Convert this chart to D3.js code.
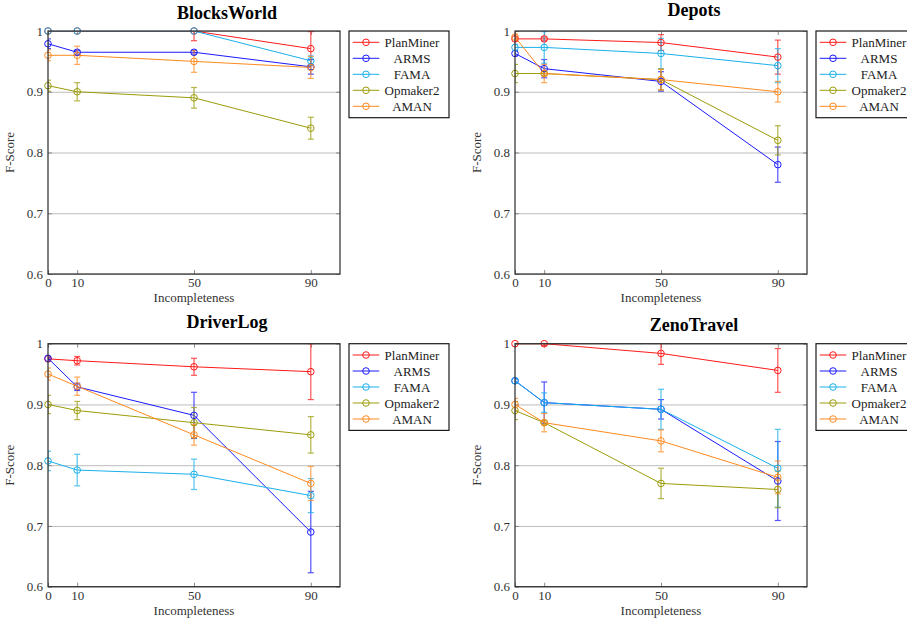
<!DOCTYPE html>
<html>
<head>
<meta charset="utf-8">
<script src="https://cdn.jsdelivr.net/npm/d3@7"></script>
<style>
  body { margin: 0; background: #fff; }
  svg { display: block; }
  text { font-family: "Liberation Serif", "Times New Roman", serif; fill: #222; }
  .title { font-weight: bold; font-size: 18px; fill: #000; }
  .tick text { font-size: 13px; fill: #333; }
  .axis-label { font-size: 13px; fill: #333; }
  .legend text { font-size: 13px; fill: #222; }
</style>
</head>
<body>
<div id="chart"></div>
<script>
// data
const levels = [0, 10, 50, 90];
const methods = ["PlanMiner", "ARMS", "FAMA", "Opmaker2", "AMAN"];
const colors = ["#ff1a1a", "#1a1aff", "#1ab0ea", "#9c9c0a", "#ff8a1f"];
const domains = ["BlocksWorld", "Depots", "DriverLog", "ZenoTravel"];
const yTicks = [0.6, 0.7, 0.8, 0.9, 1];

// mean F-score per method (rows follow `methods`, columns follow `levels`)
const blocksWorldMean = [
    [1.0, 1.0, 1.0, 0.971],
    [0.979, 0.965, 0.965, 0.941],
    [1.0, 1.0, 1.0, 0.951],
    [0.91, 0.90, 0.89, 0.84],
    [0.96, 0.96, 0.95, 0.94]
];
const blocksWorldErr = [
    [0, 0, 0.016, 0.028],
    [0.008, 0.003, 0.003, 0.012],
    [0, 0, 0, 0.008],
    [0.009, 0.015, 0.017, 0.018],
    [0.009, 0.015, 0.018, 0.018]
];

const depotsMean = [
    [0.987, 0.987, 0.981, 0.957],
    [0.963, 0.938, 0.917, 0.78],
    [0.973, 0.973, 0.963, 0.943],
    [0.93, 0.93, 0.92, 0.82],
    [0.99, 0.93, 0.92, 0.90]
];
const depotsErr = [
    [0.003, 0.003, 0.013, 0.028],
    [0.004, 0.015, 0.016, 0.029],
    [0.005, 0.026, 0.025, 0.028],
    [0.015, 0.003, 0.017, 0.024],
    [0.005, 0.015, 0.017, 0.017]
];

const driverLogMean = [
    [0.975, 0.972, 0.962, 0.954],
    [0.976, 0.929, 0.882, 0.69],
    [0.807, 0.792, 0.785, 0.75],
    [0.90, 0.89, 0.87, 0.85],
    [0.95, 0.93, 0.85, 0.77]
];
const driverLogErr = [
    [0.002, 0.007, 0.014, 0.046],
    [0.002, 0.006, 0.038, 0.067],
    [0.016, 0.026, 0.025, 0.028],
    [0.015, 0.015, 0.025, 0.03],
    [0.01, 0.015, 0.017, 0.028]
];

const zenoTravelMean = [
    [1.0, 1.0, 0.984, 0.956],
    [0.939, 0.903, 0.892, 0.774],
    [0.939, 0.903, 0.892, 0.795],
    [0.89, 0.87, 0.77, 0.76],
    [0.90, 0.87, 0.84, 0.78]
];
const zenoTravelErr = [
    [0, 0.003, 0.018, 0.036],
    [0.003, 0.034, 0.016, 0.065],
    [0.003, 0.016, 0.033, 0.064],
    [0.015, 0.003, 0.025, 0.03],
    [0.01, 0.015, 0.018, 0.027]
];

const means = [blocksWorldMean, depotsMean, driverLogMean, zenoTravelMean];
const errs = [blocksWorldErr, depotsErr, driverLogErr, zenoTravelErr];

// layout
const W = 907, H = 626;
const plotW = 292, plotH = 243;
const origins = [[48, 31], [515, 31], [48, 343.7], [515, 343.7]];
const serif = "'Liberation Serif', 'Times New Roman', serif";

const svg = d3.select("#chart").append("svg")
    .attr("width", W)
    .attr("height", H);

const x = d3.scaleLinear().domain([0, 100]).range([0, plotW]);
const y = d3.scaleLinear().domain([0.6, 1]).range([plotH, 0]);

domains.forEach((name, p) => {
    const g = svg.append("g")
        .attr("transform", "translate(" + origins[p][0] + "," + origins[p][1] + ")");

    // clip for lines and error bars
    const clipId = "clip" + p;
    g.append("clipPath").attr("id", clipId)
        .append("rect").attr("width", plotW).attr("height", plotH);

    // grid lines
    g.append("g")
        .attr("class", "grid")
        .call(d3.axisLeft(y).tickValues(yTicks).tickSize(-plotW).tickFormat(""))
        .call(s => s.select(".domain").remove())
        .selectAll("line").attr("stroke", "#bdbdbd").attr("stroke-width", 1);

    // axes with inward ticks
    const xAxis = g.append("g")
        .attr("transform", "translate(0," + plotH + ")")
        .call(d3.axisBottom(x).tickValues(levels).tickSize(-4).tickPadding(4));
    const yAxis = g.append("g")
        .call(d3.axisLeft(y).tickValues(yTicks).tickSize(-4).tickPadding(5).tickFormat(d3.format("~g")));
    const topAxis = g.append("g")
        .call(d3.axisTop(x).tickValues(levels).tickSize(-4).tickFormat(""));
    const rightAxis = g.append("g")
        .attr("transform", "translate(" + plotW + ",0)")
        .call(d3.axisRight(y).tickValues(yTicks).tickSize(-4).tickFormat(""));
    [xAxis, yAxis, topAxis, rightAxis].forEach(a => {
        a.attr("font-family", serif).attr("font-size", 13);
        a.select(".domain").remove();
        a.selectAll(".tick line").attr("stroke", "#8a8a8a");
    });

    // series
    const series = g.append("g").attr("clip-path", "url(#" + clipId + ")");
    const line = d3.line().x(d => x(d[0])).y(d => y(d[1]));

    methods.forEach((m, i) => {
        const pts = levels.map((lv, j) => [lv, means[p][i][j], errs[p][i][j]]);
        const c = colors[i];

        series.append("path")
            .datum(pts)
            .attr("fill", "none")
            .attr("stroke", c)
            .attr("stroke-width", 1)
            .attr("d", line);

        const eb = series.append("g").attr("stroke", c).attr("stroke-width", 1.2).attr("opacity", 0.75);
        pts.filter(d => d[2] > 0).forEach(d => {
            const cx = x(d[0]), y0 = y(d[1] - d[2]), y1 = y(d[1] + d[2]);
            eb.append("line").attr("x1", cx).attr("x2", cx).attr("y1", y0).attr("y2", y1);
            eb.append("line").attr("x1", cx - 3).attr("x2", cx + 3).attr("y1", y0).attr("y2", y0);
            eb.append("line").attr("x1", cx - 3).attr("x2", cx + 3).attr("y1", y1).attr("y2", y1);
        });

        g.append("g").selectAll("circle")
            .data(pts)
            .enter().append("circle")
            .attr("cx", d => x(d[0]))
            .attr("cy", d => y(d[1]))
            .attr("r", 3.3)
            .attr("fill", "none")
            .attr("stroke", c)
            .attr("stroke-width", 1);
    });

    // frame
    g.append("rect")
        .attr("width", plotW)
        .attr("height", plotH)
        .attr("fill", "none")
        .attr("stroke", "#2a2a2a")
        .attr("stroke-width", 1.2);

    // title (pgfplots centres the title box, so descenders lift it a little)
    g.append("text")
        .attr("class", "title")
        .attr("x", plotW / 2 + 33)
        .attr("y", /[gpqy]/.test(name) ? -15.5 : -12.5)
        .attr("text-anchor", "middle")
        .text(name);

    // axis labels
    g.append("text")
        .attr("class", "axis-label")
        .attr("x", plotW / 2)
        .attr("y", plotH + 28)
        .attr("text-anchor", "middle")
        .text("Incompleteness");

    g.append("text")
        .attr("class", "axis-label")
        .attr("transform", "translate(-34," + plotH / 2 + ") rotate(-90)")
        .attr("text-anchor", "middle")
        .text("F-Score");

    // legend
    const lg = g.append("g")
        .attr("class", "legend")
        .attr("transform", "translate(" + (plotW + 9) + ",0)");
    lg.append("rect")
        .attr("width", 100)
        .attr("height", 86.7)
        .attr("fill", "#fff")
        .attr("stroke", "#1a1a1a")
        .attr("stroke-width", 1.2);
    methods.forEach((m, i) => {
        const ly = 11.3 + i * 16;
        lg.append("line")
            .attr("x1", 3.7).attr("x2", 30.3)
            .attr("y1", ly).attr("y2", ly)
            .attr("stroke", colors[i]).attr("stroke-width", 1);
        lg.append("circle")
            .attr("cx", 17).attr("cy", ly).attr("r", 3.3)
            .attr("fill", "none").attr("stroke", colors[i]).attr("stroke-width", 1);
        lg.append("text")
            .attr("x", 63)
            .attr("y", ly)
            .attr("dy", "0.35em")
            .attr("text-anchor", "middle")
            .text(m);
    });
});
</script>
</body>
</html>
